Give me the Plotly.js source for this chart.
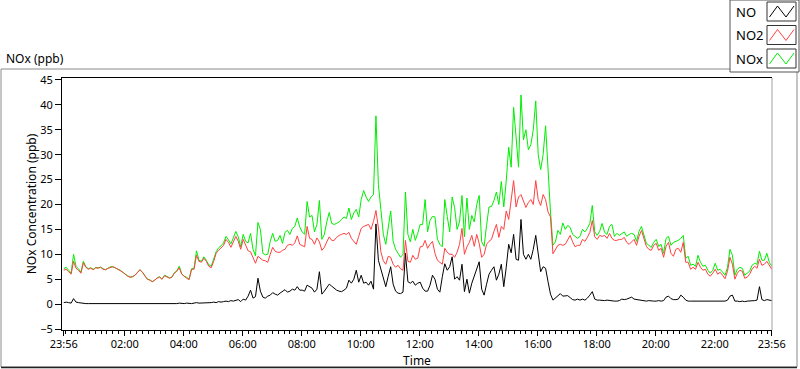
<!DOCTYPE html>
<html>
<head>
<meta charset="utf-8">
<script src="https://cdn.plot.ly/plotly-3.0.1.min.js"></script>
<style>html,body{margin:0;padding:0;background:#fff;}#chart{width:800px;height:369px;}</style>
</head>
<body>
<div id="chart"></div>
<script>
// Sampling: minutes since 23:56, every 5 minutes
const startMinute = 0;
const stepMinutes = 5;

const noValues = [
0.3,0.4,0.3,0.2,1.1,0.4,0.3,0.2,0.2,0.1,0.1,0.1,
0.1,0.0,0.1,0.0,0.1,0.0,0.0,0.1,0.0,0.0,0.1,0.0,
0.0,0.0,0.1,0.0,0.0,0.0,0.1,0.0,0.0,0.0,0.0,0.1,
0.0,0.0,0.1,0.1,0.0,0.1,0.1,0.1,0.0,0.1,0.1,0.2,
0.1,0.1,0.2,0.1,0.1,0.2,0.3,0.2,0.2,0.3,0.2,0.3,
0.3,0.4,0.3,0.5,0.4,0.5,0.6,0.5,0.7,0.6,0.8,0.9,
0.5,1.0,0.8,1.6,2.8,1.2,1.5,5.2,2.6,1.4,1.2,1.6,
1.8,2.3,2.0,1.8,2.2,2.6,2.9,2.4,2.6,3.0,2.8,3.5,
2.8,2.8,2.6,3.8,3.5,3.2,2.4,3.0,6.5,2.0,2.6,3.2,
4.0,3.6,3.1,2.8,2.6,2.5,2.8,3.2,4.8,4.2,5.0,6.8,
4.4,5.8,4.2,4.4,3.8,4.6,3.0,16.1,8.8,7.0,4.9,3.5,
5.6,7.5,4.0,2.6,2.2,2.1,2.4,10.2,4.5,4.2,4.6,3.8,
4.2,4.4,3.2,2.6,2.6,3.8,5.8,5.0,3.0,2.4,5.5,8.1,
6.8,7.5,9.5,5.0,5.5,4.8,8.0,2.5,5.0,2.2,4.2,5.5,
7.0,8.5,3.0,1.8,4.0,6.0,6.8,7.5,4.8,6.0,8.0,3.5,
7.4,12.0,10.3,14.0,9.0,8.8,17.0,10.0,9.0,10.0,9.0,11.0,
13.8,10.0,6.5,7.5,7.2,4.5,2.0,0.8,1.3,1.8,2.1,1.6,
1.6,1.7,1.3,0.9,0.8,1.0,0.8,1.0,0.8,1.2,1.8,2.5,
1.0,0.8,0.8,0.7,0.7,0.8,0.7,0.6,0.6,0.6,0.7,1.0,
0.9,1.0,1.2,1.4,1.0,0.9,0.8,0.8,0.7,0.6,0.7,0.6,
0.6,0.6,0.7,0.6,0.7,1.4,1.6,1.1,0.9,0.9,1.0,1.8,
1.4,0.8,0.6,0.6,0.6,0.5,0.6,0.6,0.6,0.5,0.5,0.5,
0.5,0.5,0.5,0.5,0.5,0.6,0.8,1.6,1.8,0.6,0.6,0.5,
0.6,0.5,0.6,0.6,0.6,0.7,0.8,3.5,0.9,0.7,0.9,0.8,
0.7];

const no2Values = [
6.8,7.0,6.5,6.0,8.6,7.2,6.8,6.2,8.3,7.4,7.0,7.2,
6.9,7.3,7.2,7.4,7.0,6.9,7.2,7.4,7.5,7.3,7.0,6.8,
6.4,6.0,5.6,5.4,5.5,5.8,6.3,6.9,6.4,5.6,5.0,4.8,
4.5,4.8,5.2,5.4,5.0,5.7,5.4,5.2,5.4,6.2,6.6,7.3,
6.0,5.5,5.2,4.9,7.0,7.0,9.8,8.6,8.4,9.2,8.6,7.6,
7.3,8.6,10.2,10.8,11.3,11.8,13.0,12.4,11.4,12.7,13.6,12.6,
11.0,13.0,11.8,10.7,10.5,9.3,8.2,9.6,9.2,8.8,8.7,8.4,
10.0,11.4,10.6,10.4,10.4,10.8,11.0,11.8,12.0,11.8,12.3,13.7,
12.0,11.8,11.5,15.6,13.2,13.0,12.0,13.3,12.5,10.8,11.4,12.5,
13.5,12.8,12.8,13.4,13.8,14.0,14.2,14.0,14.4,13.2,12.6,12.0,
13.6,15.2,15.6,15.8,16.0,15.0,16.6,18.8,15.3,10.5,8.7,8.0,
9.6,9.4,8.0,7.4,7.8,7.1,6.8,12.8,8.6,8.4,9.8,9.0,
9.2,11.5,11.6,12.8,11.2,12.0,12.6,10.2,8.8,8.4,8.0,11.2,
10.4,10.0,10.0,9.4,10.4,12.0,15.2,10.0,11.5,12.4,13.8,11.6,
14.0,12.2,9.4,10.0,12.0,12.6,13.0,14.6,16.0,13.4,15.6,15.0,
18.7,17.0,20.5,24.8,19.5,21.5,22.0,20.6,19.4,20.4,21.0,20.0,
24.8,21.0,19.8,22.0,21.0,18.5,17.5,10.1,11.0,11.8,12.0,11.8,
12.0,12.8,13.8,12.5,11.5,11.8,11.8,13.0,12.6,13.4,14.4,16.8,
13.5,13.0,13.8,13.6,13.8,13.2,14.2,13.2,12.8,12.8,13.0,13.0,
13.4,12.4,12.0,12.5,13.0,11.8,13.6,14.8,13.2,11.6,11.0,10.8,
11.8,12.2,10.8,11.2,9.4,11.6,12.4,10.2,9.6,11.0,11.2,10.4,
12.4,8.4,8.4,7.0,7.4,7.0,8.4,7.4,6.8,7.0,6.0,5.6,
6.2,7.0,6.0,6.4,5.8,5.1,6.6,9.4,8.0,5.0,6.2,6.8,
6.6,5.2,5.4,6.0,7.0,7.6,7.2,9.0,7.8,8.0,8.6,7.8,
7.0];

const noxValues = [
7.1,7.4,6.8,6.2,10.0,7.6,7.1,6.4,8.6,7.5,7.1,7.3,
7.0,7.3,7.3,7.4,7.1,6.9,7.2,7.5,7.5,7.3,7.1,6.8,
6.4,6.0,5.7,5.4,5.5,5.8,6.4,6.9,6.4,5.6,5.0,4.9,
4.5,4.8,5.3,5.5,5.0,5.8,5.5,5.3,5.4,6.3,6.7,7.6,
6.1,5.6,5.4,5.0,7.1,7.2,10.7,8.8,8.6,9.5,8.8,7.9,
7.6,9.0,10.5,11.3,11.7,12.3,13.6,12.9,12.1,13.3,14.6,13.5,
11.5,14.0,12.6,12.3,14.2,11.0,9.7,16.4,15.0,10.2,9.9,10.0,
12.6,14.2,12.6,12.8,13.8,12.2,14.4,14.8,14.0,15.2,15.6,17.3,
15.5,14.5,14.0,20.6,17.5,17.8,14.5,16.0,20.8,13.0,14.0,16.5,
18.4,16.2,16.0,16.2,16.5,17.0,17.5,17.2,19.3,17.0,18.3,19.0,
17.5,21.0,22.8,21.5,20.6,21.5,22.0,37.8,24.0,19.0,14.0,12.0,
15.5,18.7,12.6,11.0,10.2,9.4,10.0,22.5,14.0,12.5,15.0,12.8,
14.2,16.0,16.0,21.0,14.5,16.8,17.6,17.5,13.0,12.0,11.5,21.0,
17.6,14.5,21.5,19.4,15.0,16.5,21.8,13.5,21.3,15.0,17.8,16.5,
20.0,21.8,12.5,11.6,15.8,19.5,19.6,20.8,22.5,20.0,24.6,19.5,
24.7,31.5,27.5,39.5,33.5,27.5,42.0,33.0,35.0,31.0,32.0,35.0,
40.8,30.0,27.0,30.0,35.8,25.8,18.5,11.8,12.5,14.8,14.0,16.3,
15.0,15.8,15.4,14.0,13.6,13.2,13.6,15.0,14.5,15.2,16.2,19.8,
14.5,13.8,14.6,16.2,14.4,14.0,15.6,16.0,13.6,14.2,13.8,14.2,
14.5,13.6,14.0,14.2,14.0,12.6,14.6,15.6,14.0,12.2,11.8,11.4,
12.4,13.0,11.6,12.0,10.2,13.2,13.6,11.8,12.4,12.6,12.8,13.2,
13.8,9.2,9.6,7.8,8.0,7.6,9.8,8.4,7.6,7.8,6.8,6.2,
6.8,8.2,6.8,7.0,6.4,5.8,7.4,11.0,9.8,5.8,7.0,7.4,
7.2,5.8,6.2,6.6,7.8,8.2,8.0,10.6,8.8,8.8,10.2,8.4,
7.6];

const tickMinutes = [0,124,244,364,484,604,724,844,964,1084,1204,1324,1440];
const tickLabels = ['23:56','02:00','04:00','06:00','08:00','10:00','12:00','14:00','16:00','18:00','20:00','22:00','23:56'];
const seriesNames = ['NO','NO2','NOx'];
const seriesColors = ['#000000','#ff4040','#00ee00'];

// pixel -> paper helpers for decorations (plot area: x 62..772, y 78..330)
const PL = 62, PR = 772, PT = 78, PB = 330;
const px = v => (v - PL) / (PR - PL);
const py = v => (PB - v) / (PB - PT);

const FONT = 'Noto Sans, DejaVu Sans, sans-serif';

const traces = [
  {name: seriesNames[2], y: noxValues, x0: startMinute, dx: stepMinutes, type: 'scatter', mode: 'lines', line: {color: seriesColors[2], width: 1}},
  {name: seriesNames[1], y: no2Values, x0: startMinute, dx: stepMinutes, type: 'scatter', mode: 'lines', line: {color: seriesColors[1], width: 1}},
  {name: seriesNames[0], y: noValues, x0: startMinute, dx: stepMinutes, type: 'scatter', mode: 'lines', line: {color: seriesColors[0], width: 1}}
];

const shapes = [];
// outer frame
shapes.push({type: 'rect', xref: 'paper', yref: 'paper', x0: px(1), x1: px(797), y0: py(367), y1: py(69), line: {color: '#8a8a8a', width: 1}, fillcolor: 'rgba(0,0,0,0)'});
shapes.push({type: 'line', xref: 'paper', yref: 'paper', x0: px(1), x1: px(797), y0: py(367.5), y1: py(367.5), line: {color: '#222', width: 1.5}});
// right border of plot area
shapes.push({type: 'line', xref: 'paper', yref: 'paper', x0: 1, x1: 1, y0: 0, y1: 1, line: {color: '#a0a0a0', width: 1}});
// legend box
shapes.push({type: 'rect', xref: 'paper', yref: 'paper', x0: px(730), x1: px(799), y0: py(72), y1: py(0), line: {color: '#555', width: 1}, fillcolor: '#ffffff'});
const annotations = [];
const rowTop = [2, 25.5, 49];
const legendOrder = [0, 1, 2];
legendOrder.forEach((k, r) => {
  const t = rowTop[r];
  shapes.push({type: 'rect', xref: 'paper', yref: 'paper', x0: px(767), x1: px(796), y0: py(t + 19), y1: py(t), line: {color: '#333', width: 1}, fillcolor: '#ffffff'});
  const pts = [[769.5, t + 15], [777.5, t + 4], [786, t + 15], [794, t + 4]];
  const path = 'M' + pts.map(p => px(p[0]).toFixed(5) + ',' + py(p[1]).toFixed(5)).join(' L');
  shapes.push({type: 'path', xref: 'paper', yref: 'paper', path: path, line: {color: seriesColors[k], width: 1}});
  annotations.push({xref: 'paper', yref: 'paper', x: px(734), y: py(t + 10), xanchor: 'left', yanchor: 'middle', text: seriesNames[k], showarrow: false, font: {family: FONT, size: 13, color: '#000'}});
});
annotations.push({xref: 'paper', yref: 'paper', x: px(4), y: py(58), xanchor: 'left', yanchor: 'middle', text: 'NOx (ppb)', showarrow: false, font: {family: FONT, size: 12, color: '#000'}});

const layout = {
  width: 800, height: 369,
  margin: {l: PL, r: 800 - PR, t: PT, b: 369 - PB, pad: 0},
  paper_bgcolor: '#ffffff', plot_bgcolor: '#ffffff',
  showlegend: false,
  font: {family: FONT, size: 11, color: '#000'},
  xaxis: {
    range: [-3.5, 1440.5], tickmode: 'array', tickvals: tickMinutes, ticktext: tickLabels,
    ticks: 'outside', ticklen: 5, tickwidth: 1, tickcolor: '#000',
    minor: {tick0: 4, dtick: 12, ticks: 'outside', ticklen: 3, tickcolor: '#000', showgrid: false},
    showline: true, linecolor: '#000', linewidth: 1, mirror: true,
    showgrid: false, zeroline: false, ticklabelstandoff: -1,
    tickfont: {family: FONT, size: 11, color: '#000'},
    title: {text: 'Time', font: {family: FONT, size: 12, color: '#000'}, standoff: 6}
  },
  yaxis: {
    range: [-5.2, 45.4], tick0: 0, dtick: 5,
    ticks: 'outside', ticklen: 6, tickwidth: 1, tickcolor: '#000',
    showline: true, linecolor: '#000', linewidth: 1,
    showgrid: false, zeroline: false,
    tickfont: {family: FONT, size: 11, color: '#000'},
    title: {text: 'NOx Concentration (ppb)', font: {family: FONT, size: 12, color: '#000'}, standoff: 0}
  },
  shapes: shapes,
  annotations: annotations
};

Plotly.newPlot('chart', traces, layout, {displayModeBar: false, staticPlot: true});
</script>
</body>
</html>
